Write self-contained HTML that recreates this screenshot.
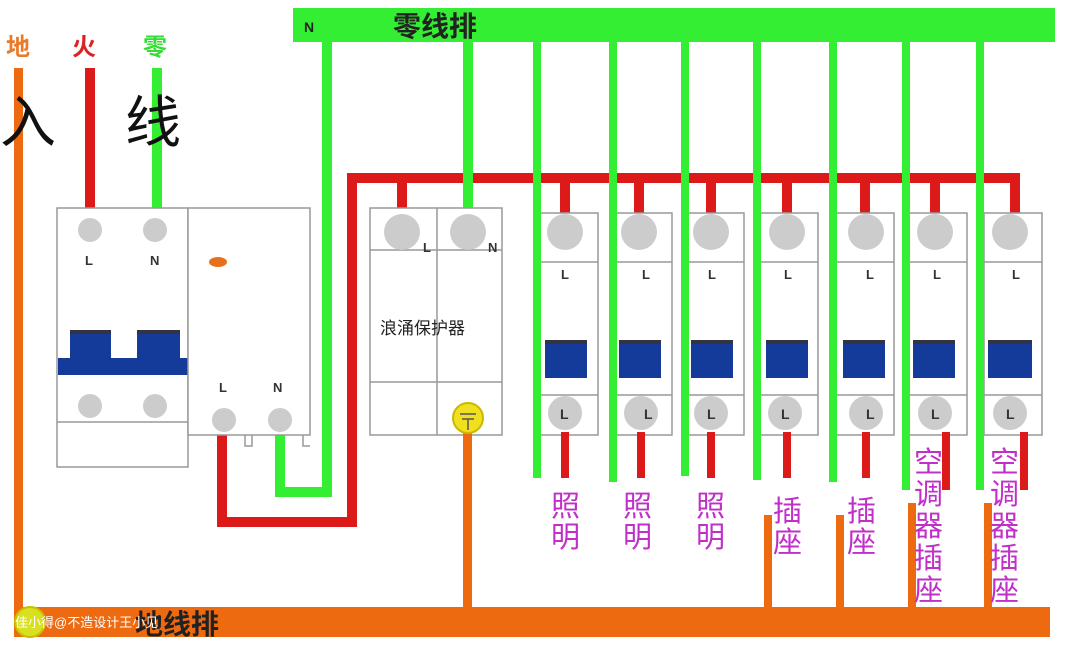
<!DOCTYPE html>
<html><head><meta charset="utf-8"><style>
html,body{margin:0;padding:0;background:#fff;width:1080px;height:645px;overflow:hidden}
svg{display:block}
text{font-family:"Liberation Sans","Noto Sans CJK SC",sans-serif}
</style></head><body>
<svg width="1080" height="645" viewBox="0 0 1080 645" xmlns="http://www.w3.org/2000/svg">
<rect x="293" y="8" width="762" height="34" fill="#33ee33"/>
<text x="304" y="32" font-size="14" font-weight="bold" fill="#222">N</text>
<text x="393" y="36" font-size="28" font-weight="bold" fill="#222">零线排</text>
<text x="6" y="55" font-size="24" font-weight="bold" fill="#e87a2a">地</text>
<text x="72" y="55" font-size="24" font-weight="bold" fill="#dd2222">火</text>
<text x="143" y="55" font-size="24" font-weight="bold" fill="#33dd33">零</text>
<rect x="14" y="68" width="9" height="550" fill="#ee6a10"/>
<rect x="85" y="68" width="10" height="150" fill="#dd1a1a"/>
<rect x="152" y="68" width="10" height="150" fill="#33ee33"/>
<text x="0" y="142" font-size="56" fill="#111">入</text>
<text x="125" y="142" font-size="56" fill="#111">线</text>
<path d="M280 420 V492 H327 V42" fill="none" stroke="#33ee33" stroke-width="10"/>
<path d="M222 420 V522 H352 V178 H1015 V212" fill="none" stroke="#dd1a1a" stroke-width="10"/>
<rect x="57" y="208" width="131" height="259" fill="#fff" stroke="#999" stroke-width="1.5"/>
<line x1="57" y1="422" x2="188" y2="422" stroke="#999" stroke-width="1.5"/>
<circle cx="90" cy="230" r="12" fill="#ccc"/><circle cx="155" cy="230" r="12" fill="#ccc"/>
<text x="85" y="265" font-size="13" font-weight="bold" fill="#333">L</text>
<text x="150" y="265" font-size="13" font-weight="bold" fill="#333">N</text>
<path d="M70 330 H111 V358 H137 V330 H180 V358 H188 V375 H58 V358 H70 Z" fill="#143a9a"/>
<rect x="70" y="330" width="41" height="4" fill="#334"/><rect x="137" y="330" width="43" height="4" fill="#334"/>
<circle cx="90" cy="406" r="12" fill="#ccc"/><circle cx="155" cy="406" r="12" fill="#ccc"/>
<rect x="188" y="208" width="122" height="227" fill="#fff" stroke="#999" stroke-width="1.5"/>
<path d="M245 435 V446 H252 V435 M303 435 V446 H310" fill="none" stroke="#999" stroke-width="1.5"/>
<ellipse cx="218" cy="262" rx="9" ry="5" fill="#e8701a"/>
<text x="219" y="392" font-size="13" font-weight="bold" fill="#333">L</text>
<text x="273" y="392" font-size="13" font-weight="bold" fill="#333">N</text>
<circle cx="224" cy="420" r="12" fill="#ccc"/><circle cx="280" cy="420" r="12" fill="#ccc"/>
<rect x="397" y="178" width="10" height="35" fill="#dd1a1a"/>
<rect x="463" y="42" width="10" height="175" fill="#33ee33"/>
<rect x="370" y="208" width="132" height="227" fill="#fff" stroke="#999" stroke-width="1.5"/>
<line x1="437" y1="208" x2="437" y2="435" stroke="#999" stroke-width="1.5"/>
<line x1="370" y1="250" x2="502" y2="250" stroke="#999" stroke-width="1.5"/>
<line x1="370" y1="382" x2="502" y2="382" stroke="#999" stroke-width="1.5"/>
<circle cx="402" cy="232" r="18" fill="#ccc"/><circle cx="468" cy="232" r="18" fill="#ccc"/>
<text x="423" y="252" font-size="13" font-weight="bold" fill="#333">L</text>
<text x="488" y="252" font-size="13" font-weight="bold" fill="#333">N</text>
<text x="380" y="334" font-size="17" fill="#222">浪涌保护器</text>
<rect x="463" y="430" width="9" height="180" fill="#ee6a10"/>
<circle cx="468" cy="418" r="15" fill="#f0e020" stroke="#cbb800" stroke-width="2"/>
<path d="M460 414 H476 M462 419 H474 M468 419 V430" stroke="#555" stroke-width="1.5"/>
<rect x="14" y="607" width="1036" height="30" fill="#ee6a10"/>
<text x="135" y="634" font-size="28" font-weight="bold" fill="#222">地线排</text>
<circle cx="30" cy="622" r="15" fill="#d8e020" stroke="#c8c000" stroke-width="2"/>
<text x="15" y="627" font-size="13" fill="#fff">佳小得@不造设计王小见</text>
<rect x="764" y="515" width="8" height="95" fill="#ee6a10"/>
<rect x="836" y="515" width="8" height="95" fill="#ee6a10"/>
<rect x="908" y="503" width="8" height="107" fill="#ee6a10"/>
<rect x="984" y="503" width="8" height="107" fill="#ee6a10"/>
<g font-weight="bold">
<g transform="translate(540,0)">
<rect x="20" y="178" width="10" height="35" fill="#dd1a1a"/>
<rect x="0" y="213" width="58" height="222" fill="#fff" stroke="#999" stroke-width="1.5"/>
<line x1="0" y1="262" x2="58" y2="262" stroke="#999" stroke-width="1.5"/><line x1="0" y1="395" x2="58" y2="395" stroke="#999" stroke-width="1.5"/>
<circle cx="25" cy="232" r="18" fill="#ccc"/><text x="21" y="279" font-size="13" fill="#333">L</text>
<rect x="5" y="340" width="42" height="38" fill="#143a9a"/><rect x="5" y="340" width="42" height="4" fill="#334"/>
<circle cx="25" cy="413" r="17" fill="#ccc"/><text x="20" y="419" font-size="14" fill="#333">L</text>
<rect x="21" y="432" width="8" height="46" fill="#dd1a1a"/>
</g>
<g transform="translate(614,0)">
<rect x="20" y="178" width="10" height="35" fill="#dd1a1a"/>
<rect x="0" y="213" width="58" height="222" fill="#fff" stroke="#999" stroke-width="1.5"/>
<line x1="0" y1="262" x2="58" y2="262" stroke="#999" stroke-width="1.5"/><line x1="0" y1="395" x2="58" y2="395" stroke="#999" stroke-width="1.5"/>
<circle cx="25" cy="232" r="18" fill="#ccc"/><text x="28" y="279" font-size="13" fill="#333">L</text>
<rect x="5" y="340" width="42" height="38" fill="#143a9a"/><rect x="5" y="340" width="42" height="4" fill="#334"/>
<circle cx="27" cy="413" r="17" fill="#ccc"/><text x="30" y="419" font-size="14" fill="#333">L</text>
<rect x="23" y="432" width="8" height="46" fill="#dd1a1a"/>
</g>
<g transform="translate(686,0)">
<rect x="20" y="178" width="10" height="35" fill="#dd1a1a"/>
<rect x="0" y="213" width="58" height="222" fill="#fff" stroke="#999" stroke-width="1.5"/>
<line x1="0" y1="262" x2="58" y2="262" stroke="#999" stroke-width="1.5"/><line x1="0" y1="395" x2="58" y2="395" stroke="#999" stroke-width="1.5"/>
<circle cx="25" cy="232" r="18" fill="#ccc"/><text x="22" y="279" font-size="13" fill="#333">L</text>
<rect x="5" y="340" width="42" height="38" fill="#143a9a"/><rect x="5" y="340" width="42" height="4" fill="#334"/>
<circle cx="25" cy="413" r="17" fill="#ccc"/><text x="21" y="419" font-size="14" fill="#333">L</text>
<rect x="21" y="432" width="8" height="46" fill="#dd1a1a"/>
</g>
<g transform="translate(760,0)">
<rect x="22" y="178" width="10" height="35" fill="#dd1a1a"/>
<rect x="0" y="213" width="58" height="222" fill="#fff" stroke="#999" stroke-width="1.5"/>
<line x1="0" y1="262" x2="58" y2="262" stroke="#999" stroke-width="1.5"/><line x1="0" y1="395" x2="58" y2="395" stroke="#999" stroke-width="1.5"/>
<circle cx="27" cy="232" r="18" fill="#ccc"/><text x="24" y="279" font-size="13" fill="#333">L</text>
<rect x="6" y="340" width="42" height="38" fill="#143a9a"/><rect x="6" y="340" width="42" height="4" fill="#334"/>
<circle cx="25" cy="413" r="17" fill="#ccc"/><text x="21" y="419" font-size="14" fill="#333">L</text>
<rect x="23" y="432" width="8" height="46" fill="#dd1a1a"/>
</g>
<g transform="translate(836,0)">
<rect x="24" y="178" width="10" height="35" fill="#dd1a1a"/>
<rect x="0" y="213" width="58" height="222" fill="#fff" stroke="#999" stroke-width="1.5"/>
<line x1="0" y1="262" x2="58" y2="262" stroke="#999" stroke-width="1.5"/><line x1="0" y1="395" x2="58" y2="395" stroke="#999" stroke-width="1.5"/>
<circle cx="30" cy="232" r="18" fill="#ccc"/><text x="30" y="279" font-size="13" fill="#333">L</text>
<rect x="7" y="340" width="42" height="38" fill="#143a9a"/><rect x="7" y="340" width="42" height="4" fill="#334"/>
<circle cx="30" cy="413" r="17" fill="#ccc"/><text x="30" y="419" font-size="14" fill="#333">L</text>
<rect x="26" y="432" width="8" height="46" fill="#dd1a1a"/>
</g>
<g transform="translate(909,0)">
<rect x="21" y="178" width="10" height="35" fill="#dd1a1a"/>
<rect x="0" y="213" width="58" height="222" fill="#fff" stroke="#999" stroke-width="1.5"/>
<line x1="0" y1="262" x2="58" y2="262" stroke="#999" stroke-width="1.5"/><line x1="0" y1="395" x2="58" y2="395" stroke="#999" stroke-width="1.5"/>
<circle cx="26" cy="232" r="18" fill="#ccc"/><text x="24" y="279" font-size="13" fill="#333">L</text>
<rect x="4" y="340" width="42" height="38" fill="#143a9a"/><rect x="4" y="340" width="42" height="4" fill="#334"/>
<circle cx="26" cy="413" r="17" fill="#ccc"/><text x="22" y="419" font-size="14" fill="#333">L</text>
<rect x="33" y="432" width="8" height="58" fill="#dd1a1a"/>
</g>
<g transform="translate(984,0)">
<rect x="26" y="178" width="10" height="35" fill="#dd1a1a"/>
<rect x="0" y="213" width="58" height="222" fill="#fff" stroke="#999" stroke-width="1.5"/>
<line x1="0" y1="262" x2="58" y2="262" stroke="#999" stroke-width="1.5"/><line x1="0" y1="395" x2="58" y2="395" stroke="#999" stroke-width="1.5"/>
<circle cx="26" cy="232" r="18" fill="#ccc"/><text x="28" y="279" font-size="13" fill="#333">L</text>
<rect x="4" y="340" width="44" height="38" fill="#143a9a"/><rect x="4" y="340" width="44" height="4" fill="#334"/>
<circle cx="26" cy="413" r="17" fill="#ccc"/><text x="22" y="419" font-size="14" fill="#333">L</text>
<rect x="36" y="432" width="8" height="58" fill="#dd1a1a"/>
</g>
</g>
<g fill="#33ee33">
<rect x="533" y="42" width="8" height="436"/>
<rect x="609" y="42" width="8" height="440"/>
<rect x="681" y="42" width="8" height="434"/>
<rect x="753" y="42" width="8" height="438"/>
<rect x="829" y="42" width="8" height="440"/>
<rect x="902" y="42" width="8" height="448"/>
<rect x="976" y="42" width="8" height="448"/>
</g>
<g font-size="29" fill="#c030c8">
<text x="551" y="516">照</text><text x="551" y="547">明</text>
<text x="623" y="516">照</text><text x="623" y="547">明</text>
<text x="696" y="516">照</text><text x="696" y="547">明</text>
<text x="773" y="521">插</text><text x="773" y="552">座</text>
<text x="847" y="521">插</text><text x="847" y="552">座</text>
<text x="914" y="472">空</text><text x="914" y="504">调</text><text x="914" y="536">器</text><text x="914" y="568">插</text><text x="914" y="600">座</text>
<text x="990" y="472">空</text><text x="990" y="504">调</text><text x="990" y="536">器</text><text x="990" y="568">插</text><text x="990" y="600">座</text>
</g>
</svg>
</body></html>
